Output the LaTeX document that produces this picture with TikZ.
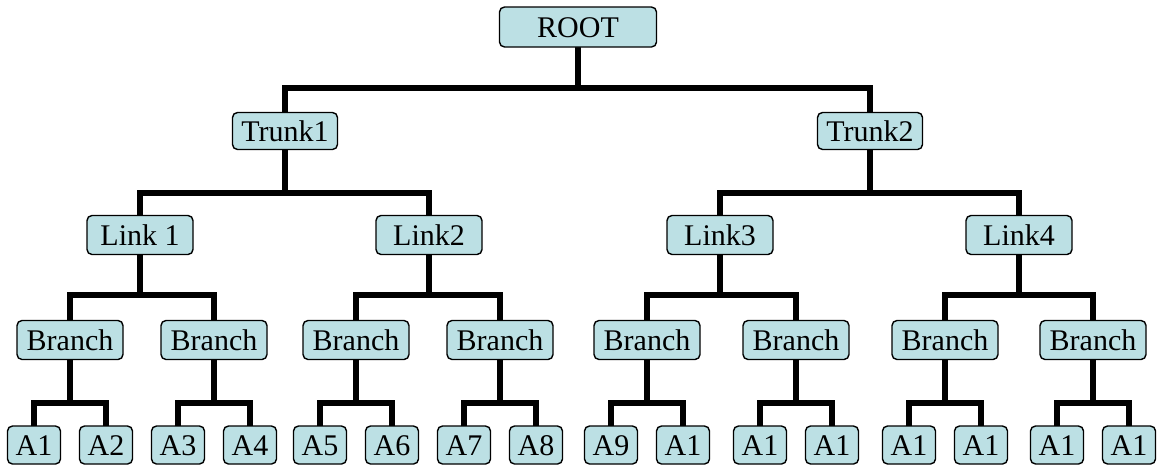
\documentclass[tikz,border=0pt]{standalone}
\usepackage{fontspec}
\setmainfont{Liberation Serif}
\usetikzlibrary{backgrounds}
\definecolor{boxfill}{RGB}{188,224,228}
\tikzset{
  tnode/.style={draw=black, line width=1.4pt, fill=boxfill, rounded corners=5pt,
    font=\fontsize{30}{34}\selectfont, text height=20pt, text depth=0pt,
    inner xsep=4pt, inner ysep=0pt, anchor=center},
  leafbox/.style={tnode, minimum width=53pt, minimum height=38pt},
  branchbox/.style={tnode, minimum width=106pt, minimum height=39pt},
  linkbox/.style={tnode, minimum width=106pt, minimum height=39pt},
  trunkbox/.style={tnode, minimum width=105pt, minimum height=37pt},
  rootbox/.style={tnode, minimum width=157pt, minimum height=40pt},
  conn/.style={line width=6pt, line join=miter, line cap=rect},
}
\begin{document}
\begin{tikzpicture}[x=1pt, y=1pt]
\useasboundingbox (0,0) rectangle (1164,-467);

% tree boxes
\node[rootbox] (root) at (578,-27) {ROOT};
\node[trunkbox] (t1) at (285,-131) {Trunk1};
\node[trunkbox] (t2) at (870,-131) {Trunk2};
\node[linkbox] (l1) at (140,-235) {Link 1};
\node[linkbox] (l2) at (429,-235) {Link2};
\node[linkbox] (l3) at (720,-235) {Link3};
\node[linkbox] (l4) at (1019,-235) {Link4};
\foreach \i/\x in {1/70, 2/214, 3/356, 4/500, 5/647, 6/796, 7/945, 8/1093}
  \node[branchbox] (b\i) at (\x,-340) {Branch};
\foreach \i/\x/\t in {1/34/A1, 2/106/A2, 3/178/A3, 4/250/A4, 5/320/A5, 6/392/A6,
    7/464/A7, 8/536/A8, 9/611/A9, 10/683/A1, 11/760/A1, 12/832/A1,
    13/909/A1, 14/981/A1, 15/1057/A1, 16/1129/A1}
  \node[leafbox] (a\i) at (\x,-445) {\t};

% bar junctions
\coordinate (jr) at (root.south |- 0,-88);
\coordinate (jt1) at (t1.south |- 0,-193);
\coordinate (jt2) at (t2.south |- 0,-193);
\foreach \i in {1,...,4}
  \coordinate (jl\i) at (l\i.south |- 0,-295);
\foreach \i in {1,...,8}
  \coordinate (jb\i) at (b\i.south |- 0,-403);

% connectors
\begin{scope}[on background layer]
  \draw[conn] (root.south) -- (jr);
  \draw[conn] (t1.north) |- (jr) -| (t2.north);
  \draw[conn] (t1.south) -- (jt1);
  \draw[conn] (l1.north) |- (jt1) -| (l2.north);
  \draw[conn] (t2.south) -- (jt2);
  \draw[conn] (l3.north) |- (jt2) -| (l4.north);
  \foreach \i/\p/\q in {1/1/2, 2/3/4, 3/5/6, 4/7/8} {
    \draw[conn] (l\i.south) -- (jl\i);
    \draw[conn] (b\p.north) |- (jl\i) -| (b\q.north);
  }
  \foreach \i/\p/\q in {1/1/2, 2/3/4, 3/5/6, 4/7/8, 5/9/10, 6/11/12, 7/13/14, 8/15/16} {
    \draw[conn] (b\i.south) -- (jb\i);
    \draw[conn] (a\p.north) |- (jb\i) -| (a\q.north);
  }
\end{scope}
\end{tikzpicture}
\end{document}
